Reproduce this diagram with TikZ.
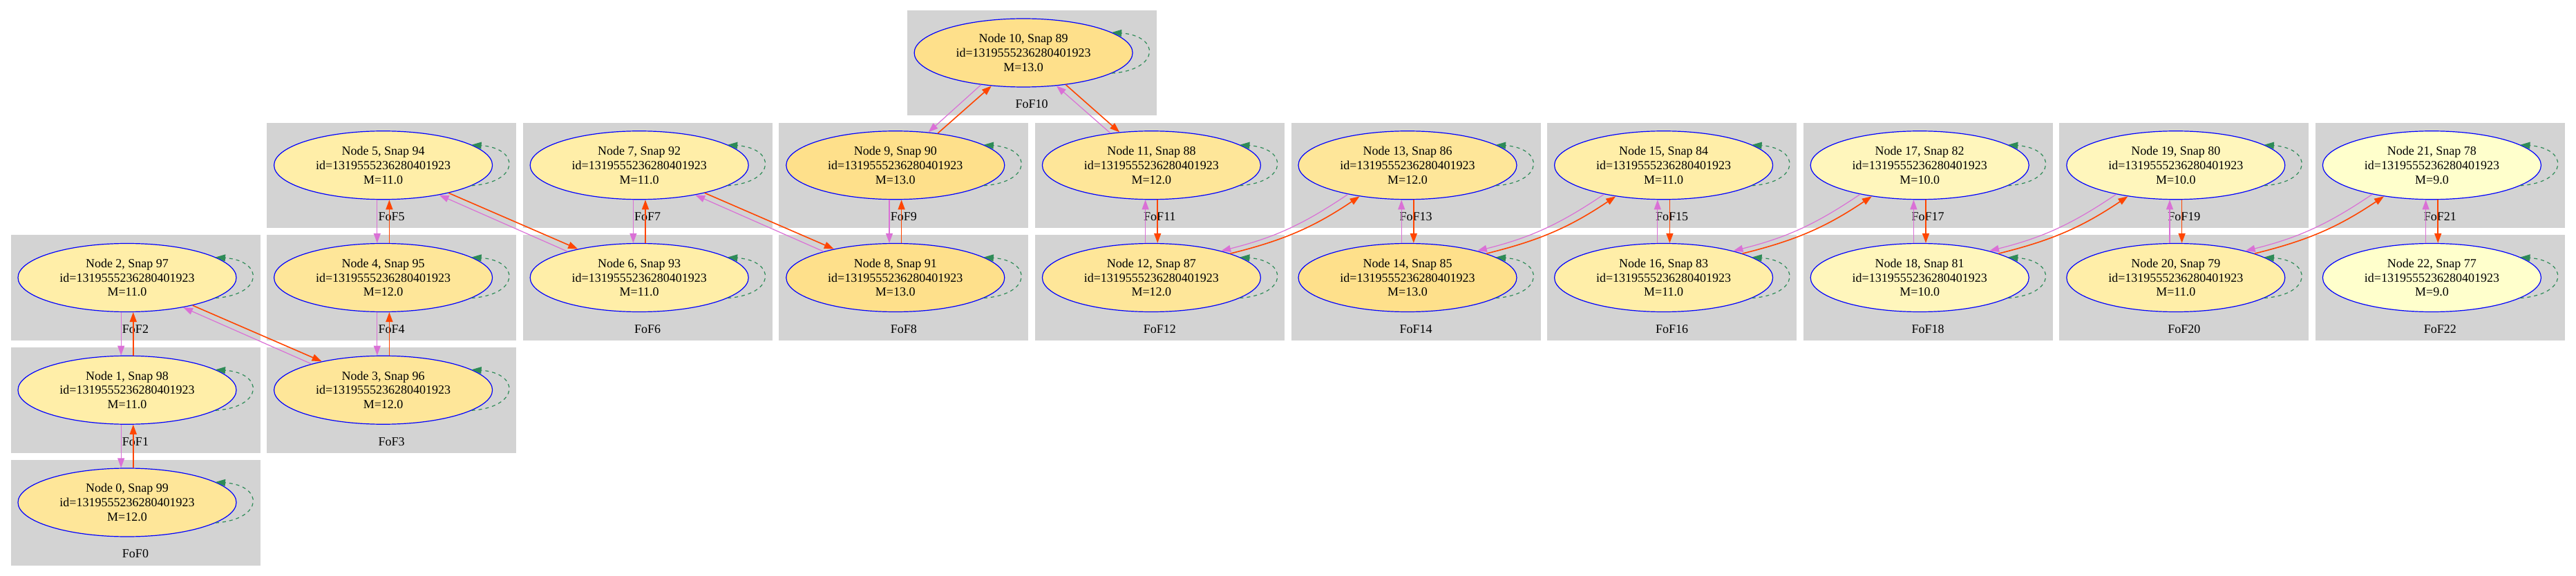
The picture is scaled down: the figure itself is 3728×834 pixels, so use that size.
\documentclass[tikz,border=0pt]{standalone}
\usepackage{fontspec}
\setmainfont{Liberation Serif}
\usetikzlibrary{arrows.meta,shapes.geometric}
\definecolor{clgray}{HTML}{D3D3D3}
\definecolor{mnine}{HTML}{FFFFCC}
\definecolor{mten}{HTML}{FFF6BC}
\definecolor{meleven}{HTML}{FFEEA8}
\definecolor{mtwelve}{HTML}{FEE699}
\definecolor{mthirteen}{HTML}{FEE08B}
\definecolor{orchidc}{HTML}{DA70D6}
\definecolor{oredc}{HTML}{FF4500}
\definecolor{sgreen}{HTML}{2E8B57}
\tikzset{
  halo/.style={ellipse, draw=blue, line width=0.6pt, minimum width=158pt,
    minimum height=49.5pt, inner sep=0pt, align=center,
    font=\fontsize{9}{10.4}\selectfont},
  foflabel/.style={inner sep=0pt, font=\fontsize{9}{10.4}\selectfont},
  pinkedge/.style={color=orchidc, line width=0.6pt, -{Triangle[length=7pt,width=5pt]}},
  rededge/.style={color=oredc, line width=0.8pt, -{Triangle[length=7pt,width=5pt]}},
  loopedge/.style={color=sgreen, line width=0.6pt, dash pattern=on 2.5pt off 2.5pt,
    -{Triangle[length=7pt,width=5pt]}},
}
\begin{document}
\begin{tikzpicture}[x=0.5pt,y=-0.5pt]
\useasboundingbox (0,0) rectangle (3728,834);
% clusters, labels and nodes
\foreach \i/\c/\r/\m/\col in {
  0/0/4/12.0/mtwelve, 1/0/3/11.0/meleven, 2/0/2/11.0/meleven,
  3/1/3/12.0/mtwelve, 4/1/2/12.0/mtwelve, 5/1/1/11.0/meleven,
  6/2/2/11.0/meleven, 7/2/1/11.0/meleven,
  8/3/2/13.0/mthirteen, 9/3/1/13.0/mthirteen, 10/3.5/0/13.0/mthirteen,
  11/4/1/12.0/mtwelve, 12/4/2/12.0/mtwelve,
  13/5/1/12.0/mtwelve, 14/5/2/13.0/mthirteen,
  15/6/1/11.0/meleven, 16/6/2/11.0/meleven,
  17/7/1/10.0/mten, 18/7/2/10.0/mten,
  19/8/1/10.0/mten, 20/8/2/11.0/meleven,
  21/9/1/9.0/mnine, 22/9/2/9.0/mnine}{
  \pgfmathsetmacro{\cx}{196+370.6*\c}
  \pgfmathsetmacro{\ty}{15+162.75*\r}
  \pgfmathtruncatemacro{\snap}{99-\i}
  \fill[clgray] (\cx-180.5,\ty) rectangle (\cx+180.5,\ty+152.5);
  \node[foflabel] (f\i) at (\cx,\ty+136) {FoF\i};
  \node[halo, fill=\col] (n\i) at (\cx-12,\ty+61.5)
    {Node \i, Snap \snap\\id=1319555236280401923\\M=\m};
}
% self loops
\foreach \i in {0,...,22}{
  \draw[loopedge] (n\i.-13) .. controls +(70,-5) and +(70,5) .. (n\i.13);
}
% vertical pairs, upper node has higher index
\foreach \u/\l in {2/1, 1/0, 5/4, 4/3, 7/6, 9/8}{
  \draw[pinkedge] ([xshift=-4.4pt]n\u.south) -- ([xshift=-4.4pt]n\l.north);
  \draw[rededge] ([xshift=4.4pt]n\l.north) -- ([xshift=4.4pt]n\u.south);
}
% vertical pairs, upper node has lower index
\foreach \u/\l in {11/12, 13/14, 15/16, 17/18, 19/20, 21/22}{
  \draw[pinkedge] ([xshift=-4.4pt]n\l.north) -- ([xshift=-4.4pt]n\u.south);
  \draw[rededge] ([xshift=4.4pt]n\u.south) -- ([xshift=4.4pt]n\l.north);
}
% straight diagonals down-right
\foreach \u/\l in {2/3, 5/6, 7/8}{
  \draw[rededge] (n\u.-23) -- (n\l.155);
  \draw[pinkedge] (n\l.160) -- (n\u.-28);
}
% top node
\draw[rededge] (n9.37) -- (n10.226);
\draw[pinkedge] (n10.217) -- (n9.45);
\draw[rededge] (n10.-37) -- (n11.134);
\draw[pinkedge] (n11.142) -- (n10.-45);
% curved diagonals up-right
\foreach \a/\b in {12/13, 14/15, 16/17, 18/19, 20/21}{
  \draw[rededge] (n\a.17) to[bend right=10] (n\b.213);
  \draw[pinkedge] (n\b.206) to[bend left=10] (n\a.21);
}
\end{tikzpicture}
\end{document}
